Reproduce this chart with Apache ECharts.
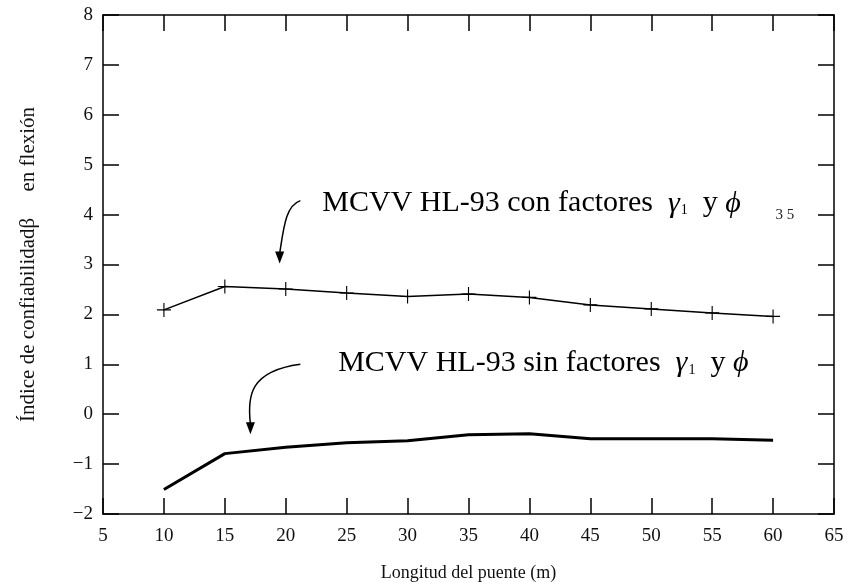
<!DOCTYPE html>
<html>
<head>
<meta charset="utf-8">
<script src="https://cdn.jsdelivr.net/npm/echarts@6/dist/echarts.min.js"></script>
<style>
  html, body { margin: 0; padding: 0; background: #fff; }
  #chart { width: 850px; height: 582px; }
</style>
</head>
<body>
<div id="chart"></div>
<script>
// Bridge span (m)
const spans = [10, 15, 20, 25, 30, 35, 40, 45, 50, 55, 60];
// Reliability index in bending, design with load and resistance factors
const betaWithFactors = [2.09, 2.56, 2.51, 2.43, 2.36, 2.41, 2.34, 2.19, 2.11, 2.03, 1.96];
// Reliability index in bending, design without factors
const betaWithoutFactors = [-1.51, -0.79, -0.66, -0.57, -0.53, -0.41, -0.39, -0.49, -0.49, -0.49, -0.52];

const xTicks = { min: 5, max: 65, interval: 5 };
const yTicks = { min: -2, max: 8, interval: 1 };

// Callout anchors in data units
const calloutWith = { tail: [21.2, 4.28], bend: [20.0, 3.95], tip: [19.5, 3.02] };
const calloutWithout = { tail: [21.2, 1.0], bend: [17.0, 0.55], tip: [17.1, -0.40] };

const serif = '"Liberation Serif", "Times New Roman", serif';
const chart = echarts.init(document.getElementById('chart'));

const plusPath = 'path://M-0.08,-1 L0.08,-1 L0.08,-0.08 L1,-0.08 L1,0.08 L0.08,0.08 L0.08,1 L-0.08,1 L-0.08,0.08 L-1,0.08 L-1,-0.08 L-0.08,-0.08 Z';

const tickStyle = { show: true, inside: true, length: 16, lineStyle: { color: '#000', width: 1.5 } };
const axisLine = { onZero: false, lineStyle: { color: '#000', width: 1.5 } };
const minus = v => String(v).replace('-', '−');

chart.setOption({
  animation: false,
  backgroundColor: '#fff',
  grid: { left: 103, right: 16, top: 15, bottom: 68, outerBoundsMode: 'none', containLabel: false },
  xAxis: [
    {
      type: 'value', position: 'bottom', ...xTicks,
      name: 'Longitud del puente (m)', nameLocation: 'middle', nameGap: 50,
      nameTextStyle: { fontFamily: serif, fontSize: 18, color: '#111' },
      axisLine, axisTick: tickStyle,
      axisLabel: { fontFamily: serif, fontSize: 19, color: '#111', margin: 13 },
      splitLine: { show: false }
    },
    {
      type: 'value', position: 'top', ...xTicks,
      axisLine, axisTick: tickStyle,
      axisLabel: { show: false }, splitLine: { show: false }
    }
  ],
  yAxis: [
    {
      type: 'value', position: 'left', ...yTicks,
      name: 'Índice de confiabilidadβ     en flexión', nameLocation: 'middle', nameGap: 64,
      nameTextStyle: { fontFamily: serif, fontSize: 21, color: '#111' },
      axisLine, axisTick: tickStyle,
      axisLabel: { fontFamily: serif, fontSize: 19, color: '#111', margin: 10, formatter: minus },
      splitLine: { show: false }
    },
    {
      type: 'value', position: 'right', ...yTicks,
      axisLine, axisTick: tickStyle,
      axisLabel: { show: false }, splitLine: { show: false }
    }
  ],
  series: [
    {
      name: 'MCVV HL-93 con factores',
      type: 'line',
      data: spans.map((s, i) => [s, betaWithFactors[i]]),
      lineStyle: { color: '#000', width: 1.5 },
      symbol: plusPath, symbolSize: 14, showAllSymbol: true,
      itemStyle: { color: '#000' }
    },
    {
      name: 'MCVV HL-93 sin factores',
      type: 'line',
      data: spans.map((s, i) => [s, betaWithoutFactors[i]]),
      lineStyle: { color: '#000', width: 3 },
      symbol: 'none'
    }
  ]
});

function px(p) { return chart.convertToPixel({ gridIndex: 0 }, p); }

function callout(c) {
  const a = px(c.tail), b = px(c.bend), t = px(c.tip);
  const head = 12, half = 4.5;
  const end = [t[0], t[1] - head + 2];
  return [
    {
      type: 'bezierCurve',
      shape: { x1: a[0], y1: a[1], cpx1: b[0], cpy1: a[1] + (b[1] - a[1]) * 0.3, cpx2: b[0] - 2, cpy2: b[1] + 10, x2: end[0], y2: end[1] },
      style: { stroke: '#000', lineWidth: 1.5, fill: null }
    },
    {
      type: 'polygon',
      shape: { points: [[t[0], t[1]], [t[0] - half, t[1] - head], [t[0] + half, t[1] - head]] },
      style: { fill: '#000' }
    }
  ];
}

function label(x, y, variant) {
  return {
    type: 'text', x: x, y: y,
    style: {
      text: '{r|MCVV HL-93 ' + variant + ' factores  }{i|γ}{s|1}{r|  y }{i|ϕ}',
      verticalAlign: 'middle',
      rich: {
        r: { fontFamily: serif, fontSize: 30, fill: '#000' },
        i: { fontFamily: serif, fontSize: 30, fontStyle: 'italic', fill: '#000' },
        s: { fontFamily: serif, fontSize: 14, fill: '#000', padding: [14, 0, 0, 1] }
      }
    }
  };
}

const pWith = px([23.0, 4.22]);
const pWithout = px([24.3, 1.02]);
const stray = px([60.2, 4]);

chart.setOption({
  graphic: [
    ...callout(calloutWith),
    ...callout(calloutWithout),
    label(pWith[0], pWith[1], 'con'),
    label(pWithout[0], pWithout[1], 'sin'),
    { type: 'text', x: stray[0], y: stray[1], style: { text: '3 5', fontFamily: serif, fontSize: 15, fill: '#222', verticalAlign: 'middle' } }
  ]
});
</script>
</body>
</html>
